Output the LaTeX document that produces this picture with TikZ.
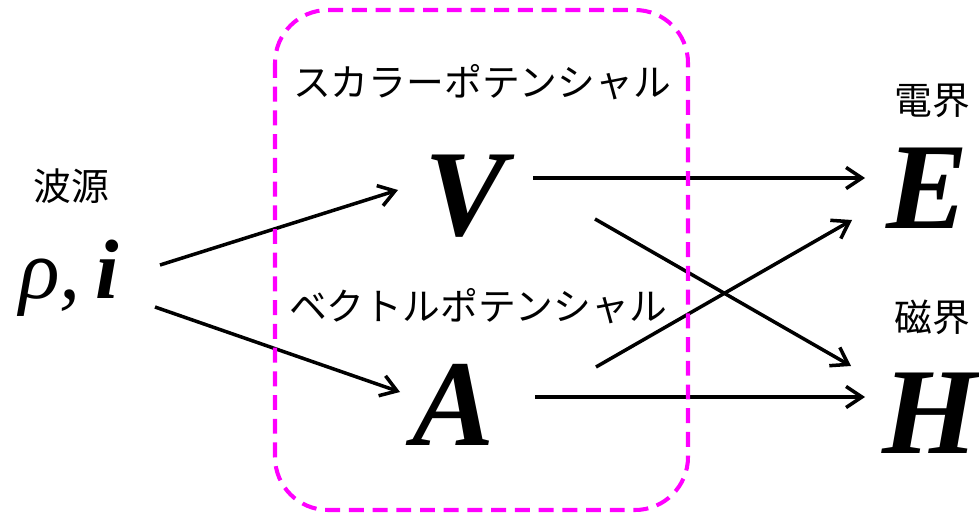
\documentclass[tikz,border=0pt]{standalone}
\usepackage{fontspec}
\newfontfamily\jpfont{Noto Sans CJK JP}
\newfontfamily\symfont{Liberation Serif}
\usetikzlibrary{arrows.meta}
\definecolor{BoxLine}{RGB}{255,0,255}

\begin{document}
\begin{tikzpicture}[x=0.02cm, y=-0.02cm,
    jp/.style={font=\jpfont\fontsize{21.5}{24}\selectfont, inner sep=0pt},
    sym/.style={font=\symfont\bfseries\itshape\fontsize{70}{74}\selectfont, inner sep=0pt, anchor=base},
    arr/.style={-{Straight Barb[length=9pt,width=12pt]}, line width=2pt},
    potbox/.style={draw=BoxLine, line width=2.3pt, dash pattern=on 8.5pt off 5pt, rounded corners=1.06cm}
  ]
  \useasboundingbox (0,0) rectangle (979,513);
  \node[jp] (srclab) at (71,186) {波源};
  \node[sym, font=\symfont\itshape\fontsize{48}{50}\selectfont] (src) at (69,298) {ρ,\,\textbf{i}};
  \node[jp] (scalar) at (482,82) {スカラーポテンシャル};
  \node[jp] (vector) at (478,306) {ベクトルポテンシャル};
  \node[sym] (V) at (466,235) {V};
  \node[sym] (A) at (454,445) {A};
  \node[jp] (Elab) at (932,101) {電界};
  \node[jp] (Hlab) at (932,317) {磁界};
  \node[sym] (E) at (927,228) {E};
  \node[sym] (H) at (930,453) {H};
  \draw[arr] ([shift={(91,-33)}]src.base) -- ([shift={(-68,-45)}]V.base);
  \draw[arr] ([shift={(86,9)}]src.base) -- ([shift={(-54,-53)}]A.base);
  \draw[arr] ([shift={(67,-57)}]V.base) -- ([shift={(-62,-50)}]E.base);
  \draw[arr] ([shift={(81,-48)}]A.base) -- ([shift={(-65,-56)}]H.base);
  \draw[arr] ([shift={(129,-16)}]V.base) -- ([shift={(-79,-87)}]H.base);
  \draw[arr] ([shift={(142,-78)}]A.base) -- ([shift={(-75,-8)}]E.base);
  % dashed frame round the potentials
  \draw[potbox] (275,10) rectangle (688,510);
\end{tikzpicture}
\end{document}
